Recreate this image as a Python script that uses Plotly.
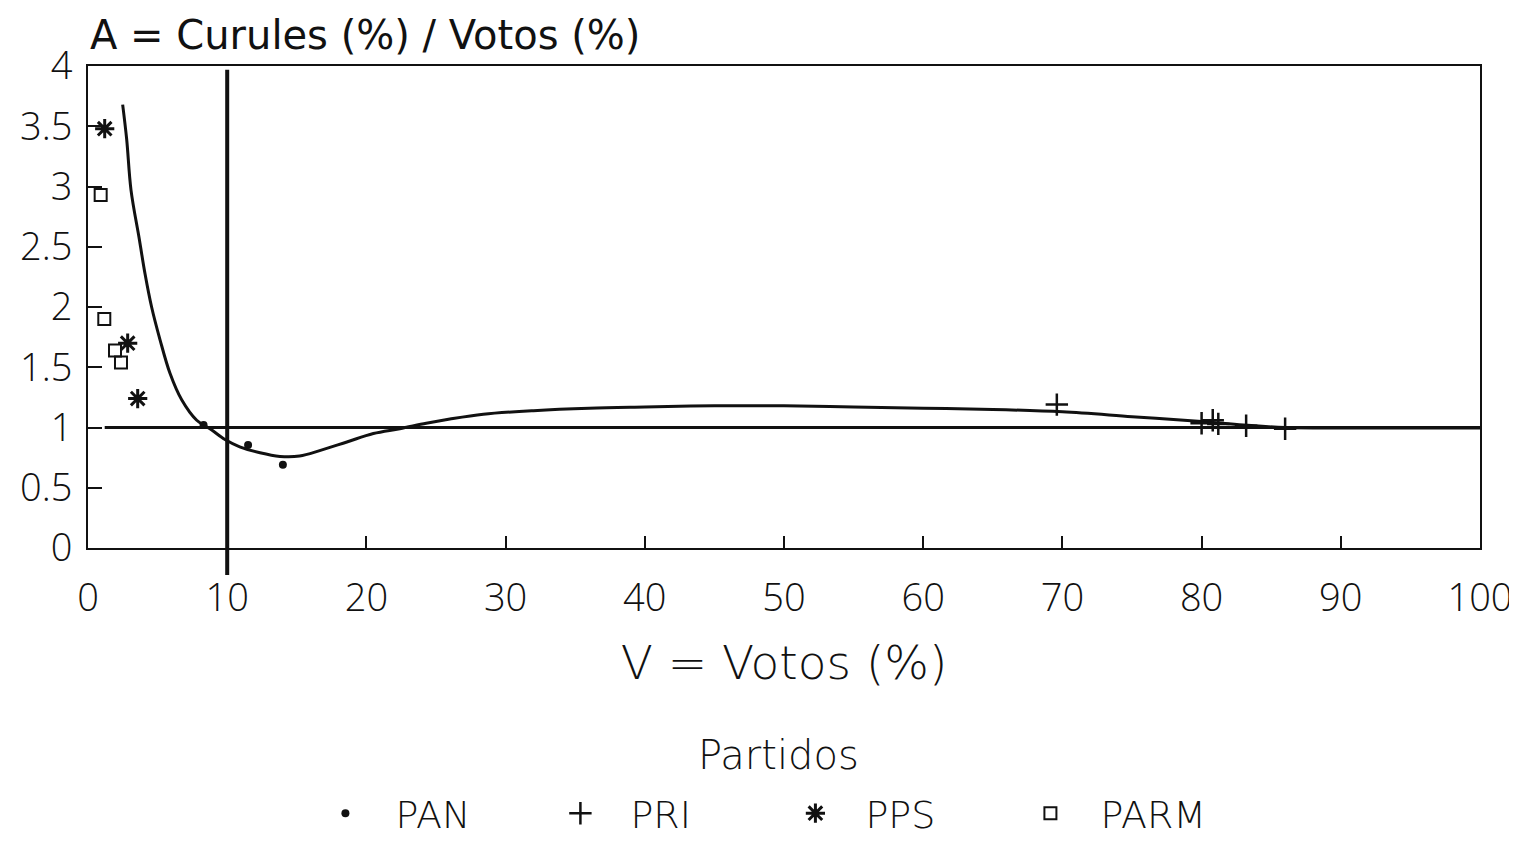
import plotly.graph_objects as go

# ---- data ----
pan_x = [8.3, 11.5, 14.0]
pan_y = [1.02, 0.855, 0.69]

pri_x = [69.6, 80.0, 80.8, 81.2, 83.2, 86.0]
pri_y = [1.19, 1.035, 1.06, 1.03, 1.015, 0.99]

pps_x = [1.2, 2.85, 3.57]
pps_y = [3.48, 1.70, 1.24]

parm_x = [0.91, 1.17, 1.94, 2.37]
parm_y = [2.93, 1.90, 1.64, 1.54]

curve_x = [2.49, 2.78, 3.09, 3.69, 4.09, 4.57, 5.17, 5.89, 6.73, 7.81, 8.76, 9.84,
           10.9, 12.36, 13.79, 15.2, 16.7, 18.6, 20.5, 22.4, 24.3, 26.0, 28.4,
           32.0, 36.0, 40.0, 45.0, 50.0, 55.0, 60.0, 65.0, 70.0, 75.0, 80.0,
           83.0, 86.0, 90.0, 100.0]
curve_y = [3.68, 3.39, 2.97, 2.56, 2.28, 2.00, 1.73, 1.45, 1.23, 1.06, 0.99, 0.90,
           0.84, 0.79, 0.76, 0.763, 0.81, 0.88, 0.95, 0.99, 1.035, 1.07, 1.11,
           1.14, 1.16, 1.17, 1.18, 1.18, 1.17, 1.16, 1.15, 1.13, 1.09, 1.05,
           1.02, 1.0, 0.995, 0.995]

ref_h_x = [1.2, 100]
ref_h_y = [1, 1]
ref_v_x = 10

x_ticks = [0, 10, 20, 30, 40, 50, 60, 70, 80, 90, 100]
y_ticks = [0, 0.5, 1, 1.5, 2, 2.5, 3, 3.5, 4]

TICK_FONT = "Open Sans"
TEXT_FONT = "DejaVu Sans"
INK = "#111111"

fig = go.Figure()

fig.add_trace(go.Scatter(x=curve_x, y=curve_y, mode="lines",
                         line=dict(color=INK, width=3, shape="spline", smoothing=1.0),
                         showlegend=False, hoverinfo="skip"))
fig.add_trace(go.Scatter(x=ref_h_x, y=ref_h_y, mode="lines",
                         line=dict(color=INK, width=3), showlegend=False, hoverinfo="skip"))

fig.add_trace(go.Scatter(x=pan_x, y=pan_y, mode="markers", name="PAN",
                         marker=dict(symbol="circle", size=8, color=INK)))
fig.add_trace(go.Scatter(x=pri_x, y=pri_y, mode="markers", name="PRI",
                         marker=dict(symbol="cross-thin", size=16, color=INK,
                                     line=dict(color=INK, width=2.5))))
fig.add_trace(go.Scatter(x=pps_x, y=pps_y, mode="markers", name="PPS",
                         marker=dict(symbol="asterisk", size=16, color=INK,
                                     line=dict(color=INK, width=3))))
fig.add_trace(go.Scatter(x=parm_x, y=parm_y, mode="markers", name="PARM",
                         marker=dict(symbol="square-open", size=12, color=INK,
                                     line=dict(color=INK, width=2))))

fig.add_shape(type="line", xref="x", yref="paper", x0=ref_v_x, x1=ref_v_x,
              y0=-0.056, y1=0.992, line=dict(color=INK, width=4))

fig.update_xaxes(range=[0, 100], tickvals=x_ticks, ticks="inside", ticklen=12,
                 tickwidth=2, tickcolor=INK, showline=True, linecolor=INK, linewidth=2,
                 mirror=True, showgrid=False, zeroline=False,
                 tickfont=dict(family=TICK_FONT, size=38, color=INK, weight=300),
                 ticklabelstandoff=15,
                 title=dict(text="V = Votos (%)",
                            font=dict(family=TEXT_FONT, size=47, color=INK, weight=300),
                            standoff=26))
fig.update_yaxes(range=[0, 4], tickvals=y_ticks, ticks="inside", ticklen=14,
                 tickwidth=2, tickcolor=INK, showline=True, linecolor=INK, linewidth=2,
                 mirror=True, showgrid=False, zeroline=False,
                 tickfont=dict(family=TICK_FONT, size=38, color=INK, weight=300),
                 ticklabelstandoff=6)

fig.add_annotation(text="A = Curules (%) / Votos (%)", xref="paper", yref="paper",
                   x=0, y=1, xanchor="left", yanchor="bottom", showarrow=False,
                   yshift=6, font=dict(family=TEXT_FONT, size=40, color=INK))

fig.add_annotation(text="Partidos", xref="paper", yref="paper",
                   x=0.496, y=-0.4295, xanchor="center", yanchor="middle",
                   showarrow=False, font=dict(family=TEXT_FONT, size=40, color=INK, weight=300))

fig.update_layout(
    width=1509, height=837,
    margin=dict(l=80, r=37, t=58, b=297, autoexpand=False),
    paper_bgcolor="white", plot_bgcolor="white",
    legend=dict(orientation="h", x=0.149, xanchor="left",
                yref="container", y=0.0, yanchor="bottom",
                font=dict(family=TEXT_FONT, size=38, color=INK, weight=300),
                entrywidth=130, entrywidthmode="pixels", itemwidth=90,
                itemsizing="trace"),
)

fig.write_html("out.html")
